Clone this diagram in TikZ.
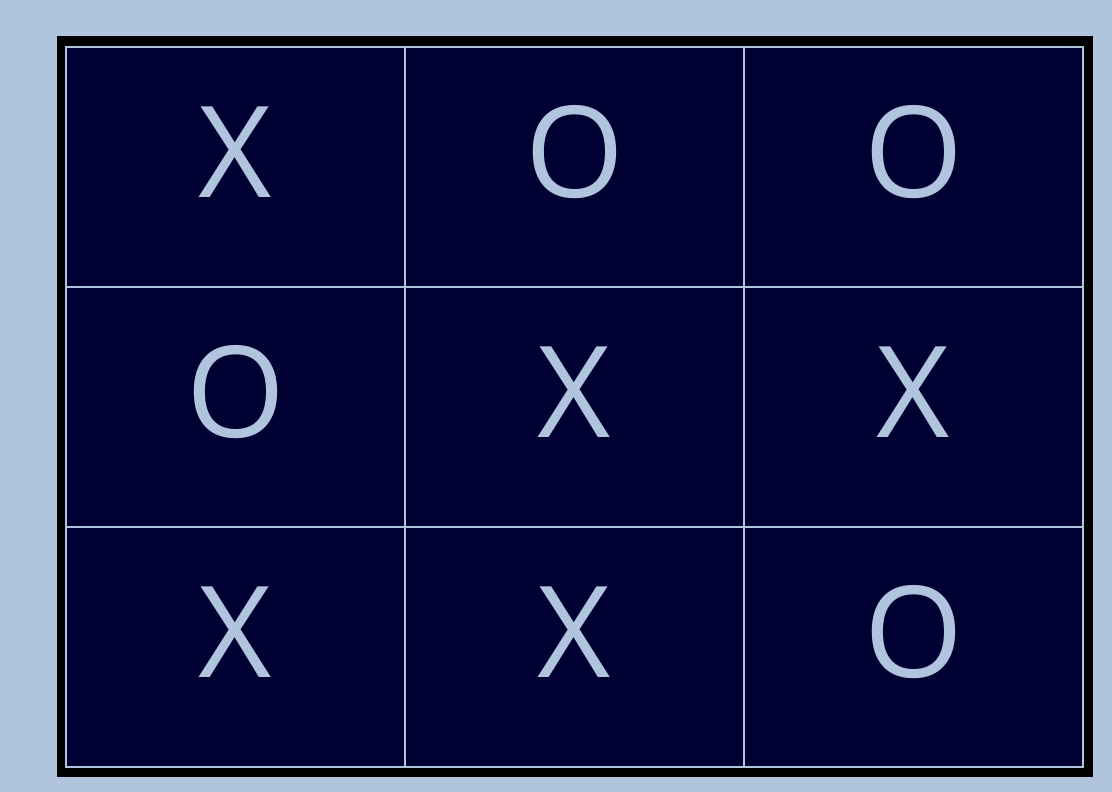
\documentclass[tikz,border=0pt]{standalone}
\usepackage{fontspec}
\setmainfont{Open Sans}
\usetikzlibrary{positioning}
\definecolor{boardbg}{RGB}{176,196,222}
\definecolor{cellnavy}{RGB}{0,0,51}

\begin{document}
\begin{tikzpicture}[
    x=1pt, y=-1pt,
    frame/.style={fill=black, draw=none},
    cell/.style={fill=cellnavy, draw=boardbg, line width=1.2pt},
    playmark/.style={anchor=base, inner sep=0pt, text=boardbg, font=\fontsize{127}{127}\selectfont}
]

% Background and board frame
\fill[boardbg] (0,0) rectangle (1112,792);
\useasboundingbox (0,0) rectangle (1112,792);
\path[frame] (57,36) rectangle (1093,777);

% Cells
\foreach \r in {0,1,2}
  \foreach \c in {0,1,2}
    \path[cell] ({66+339*\c},{47+240*\r}) rectangle ({66+339*(\c+1)},{47+240*(\r+1)});

% Marks
\node[playmark] (m11) at (235.5,197) {X};
\node[playmark] (m12) at (574.5,197) {O};
\node[playmark] (m13) at (913.5,197) {O};
\node[playmark] (m21) at (235.5,437) {O};
\node[playmark] (m22) at (574.5,437) {X};
\node[playmark] (m23) at (913.5,437) {X};
\node[playmark] (m31) at (235.5,677) {X};
\node[playmark] (m32) at (574.5,677) {X};
\node[playmark] (m33) at (913.5,677) {O};

\end{tikzpicture}
\end{document}
